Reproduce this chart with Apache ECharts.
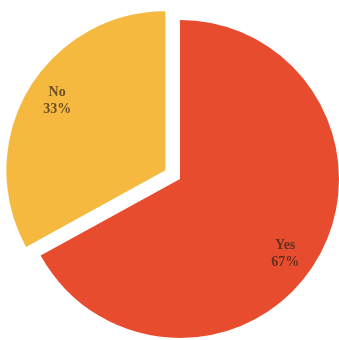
<!DOCTYPE html>
<html>
<head>
<meta charset="utf-8">
<script src="https://cdn.jsdelivr.net/npm/echarts@6/dist/echarts.min.js"></script>
<style>
  html, body { margin: 0; padding: 0; background: #ffffff; }
  #chart { width: 339px; height: 340px; }
</style>
</head>
<body>
<div id="chart"></div>
<script>
// Survey answers, in percent
const categories = ['Yes', 'No'];
const shares = [67, 33];
const sliceColors = ['#E74C2F', '#F5B940'];
const pulledOut = ['No'];

const chart = echarts.init(document.getElementById('chart'), null, { renderer: 'canvas' });

const pieData = categories.map((name, i) => ({
  name: name,
  value: shares[i],
  selected: pulledOut.includes(name),
  itemStyle: { color: sliceColors[i] }
}));

const center = [180, 179];
const outer = 159;
const offset = 17;

// small hand nudges for the in-slice labels
const labelNudge = { Yes: [-8, 8], No: [5, -3] };

chart.setOption({
  animation: false,
  backgroundColor: '#ffffff',
  series: [
    {
      // filled slices
      type: 'pie',
      center: center,
      radius: [0, outer],
      startAngle: 90,
      clockwise: true,
      selectedMode: 'single',
      selectedOffset: offset,
      silent: true,
      label: { show: false },
      labelLine: { show: false },
      emphasis: { disabled: true },
      data: pieData
    },
    {
      // ring that carries the in-slice labels further out from the centre
      type: 'pie',
      center: center,
      radius: [98, outer],
      startAngle: 90,
      clockwise: true,
      selectedMode: 'single',
      selectedOffset: offset,
      silent: true,
      itemStyle: { color: 'rgba(0,0,0,0)' },
      emphasis: { disabled: true },
      labelLine: { show: false },
      label: {
        show: true,
        position: 'inside',
        formatter: '{b}\n{c}%',
        fontFamily: '"Liberation Serif", "DejaVu Serif", serif',
        fontSize: 14,
        fontWeight: 'bold',
        lineHeight: 17,
        color: 'rgba(55,38,26,0.72)'
      },
      labelLayout: function (params) {
        const n = labelNudge[categories[params.dataIndex]] || [0, 0];
        return { dx: n[0], dy: n[1] };
      },
      data: pieData.map(d => ({ ...d, itemStyle: { color: 'rgba(0,0,0,0)' } }))
    }
  ]
});
</script>
</body>
</html>
